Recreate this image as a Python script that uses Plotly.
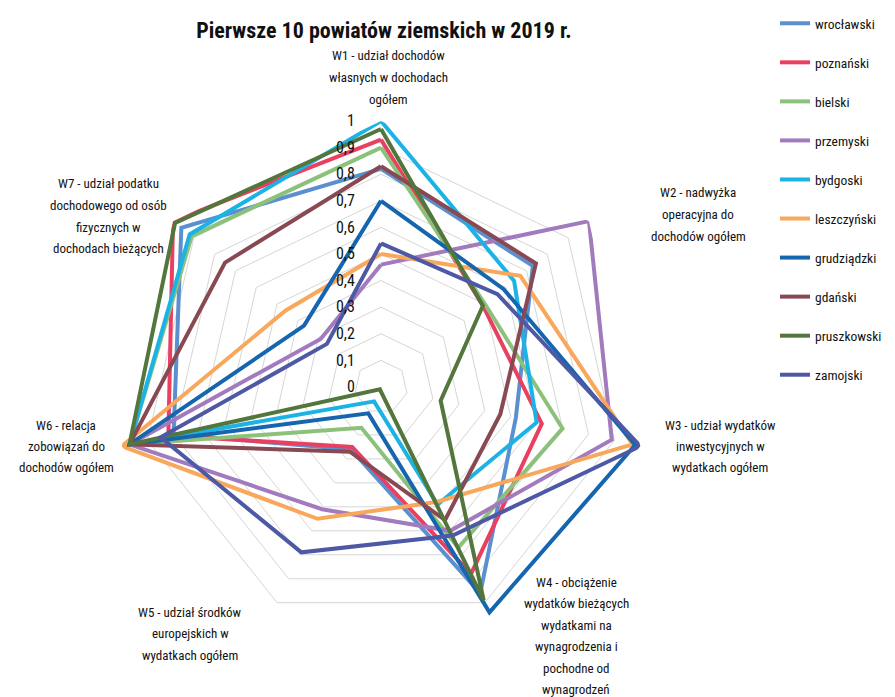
import plotly.graph_objects as go

# axes (categories)
categories = ['W1', 'W2', 'W3', 'W4', 'W5', 'W6', 'W7']
radial_ticks = [0, 0.1, 0.2, 0.3, 0.4, 0.5, 0.6, 0.7, 0.8, 0.9, 1]

# values per powiat, order W1..W7
wroclawski = [0.82, 0.73, 0.52, 0.86, 0.26, 0.80, 0.96]
poznanski = [0.93, 0.49, 0.62, 0.78, 0.25, 0.82, 1.00]
bielski = [0.90, 0.50, 0.70, 0.67, 0.17, 0.97, 0.91]
przemyski = [0.46, 1.00, 0.89, 0.60, 0.51, 0.97, 0.29]
bydgoski = [1.00, 0.64, 0.60, 0.49, 0.06, 0.97, 0.92]
leszczynski = [0.50, 0.67, 0.97, 0.48, 0.55, 1.00, 0.46]
grudziadzki = [0.70, 0.59, 0.98, 0.94, 0.11, 0.97, 0.37]
gdanski = [0.83, 0.745, 0.46, 0.555, 0.27, 0.97, 0.75]
pruszkowski = [0.97, 0.49, 0.23, 0.89, 0.01, 0.97, 0.99]
zamojski = [0.54, 0.56, 1.00, 0.62, 0.69, 0.85, 0.26]

series = [
    ('wrocławski', wroclawski, '#5A8FD0'),
    ('poznański', poznanski, '#EA3F60'),
    ('bielski', bielski, '#8CC17B'),
    ('przemyski', przemyski, '#A17BBD'),
    ('bydgoski', bydgoski, '#1BB3E6'),
    ('leszczyński', leszczynski, '#F8A75B'),
    ('grudziądzki', grudziadzki, '#1565AF'),
    ('gdański', gdanski, '#894952'),
    ('pruszkowski', pruszkowski, '#52763B'),
    ('zamojski', zamojski, '#4E59A6'),
]

axis_labels = [
    ['W1 - udział dochodów', 'własnych w dochodach', 'ogółem'],
    ['W2 - nadwyżka', 'operacyjna do', 'dochodów ogółem'],
    ['W3 - udział wydatków', 'inwestycyjnych w', 'wydatkach ogółem'],
    ['W4 - obciążenie', 'wydatków bieżących', 'wydatkami na', 'wynagrodzenia i',
     'pochodne od', 'wynagrodzeń'],
    ['W5 - udział środków', 'europejskich w', 'wydatkach ogółem'],
    ['W6 - relacja', 'zobowiązań do', 'dochodów ogółem'],
    ['W7 - udział podatku', 'dochodowego od osób', 'fizycznych w', 'dochodach bieżących'],
]
# label block: center x and first line y, in pixels from top-left
label_pos = [(380, 48), (690, 185), (712, 417), (568, 574), (182, 604), (58, 417), (100, 176)]
LINE_H = 21.5

W, H = 895, 697
FONT = 'Liberation Sans Narrow, Roboto Condensed, DejaVu Sans Condensed, Arial Narrow, sans-serif'

fig = go.Figure()
for i, (name, vals, color) in enumerate(series):
    fig.add_trace(go.Scatterpolar(
        r=vals + [vals[0]],
        theta=categories + [categories[0]],
        mode='lines',
        name=name,
        legendgroup=str(i),
        line=dict(color=color, width=4),
    ))

for lines, (px_, py_) in zip(axis_labels, label_pos):
    for k, txt in enumerate(lines):
        fig.add_annotation(
            text=txt, x=px_ / W, y=1 - (py_ + k * LINE_H) / H, xref='paper', yref='paper',
            showarrow=False, xanchor='center', yanchor='middle',
            font=dict(size=13, color='#111111', family=FONT),
        )

R = 266
cx, cy = 373, H - 379
fig.update_layout(
    width=W, height=H,
    margin=dict(l=0, r=0, t=0, b=0),
    paper_bgcolor='white',
    plot_bgcolor='white',
    separators=', ',
    font=dict(family=FONT, size=14, color='#111111'),
    title=dict(
        text='<b>Pierwsze 10 powiatów ziemskich w 2019 r.</b>',
        x=376 / W, xanchor='center', y=1 - 22 / H, yanchor='middle',
        font=dict(size=22, color='#111111', family=FONT),
    ),
    polar=dict(
        domain=dict(x=[(cx - R) / W, (cx + R) / W], y=[(cy - R) / H, (cy + R) / H]),
        bgcolor='white',
        gridshape='linear',
        angularaxis=dict(
            direction='clockwise', rotation=90,
            showticklabels=False, ticks='', showgrid=False,
            showline=False,
        ),
        radialaxis=dict(
            range=[0, 1], tickvals=radial_ticks,
            ticktext=[str(v).replace('.', ',') for v in radial_ticks],
            angle=90, tickangle=90, side='counterclockwise',
            showline=False, ticks='outside', ticklen=20, tickcolor='rgba(0,0,0,0)',
            gridcolor='#D6D6D6', gridwidth=1.3,
            tickfont=dict(size=16, color='#111111', family=FONT),
        ),
    ),
    legend=dict(
        x=767 / W, xanchor='left', y=1, yanchor='top',
        tracegroupgap=18.5,
        font=dict(size=13.5, color='#111111', family=FONT),
        bgcolor='rgba(0,0,0,0)',
    ),
)

fig.write_html('out.html')
